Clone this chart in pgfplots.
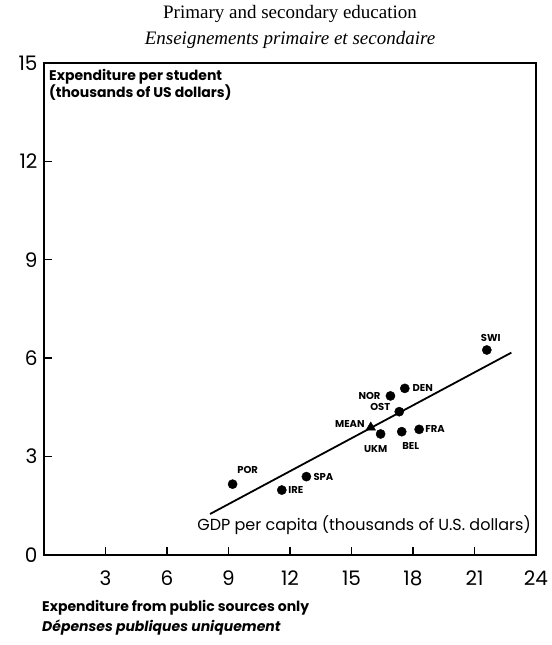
\documentclass[border=0pt]{standalone}
\usepackage{fontspec}
\setmainfont{Liberation Serif}
\newfontfamily\pop{Poppins}
\usepackage{pgfplots}
\usepackage{pgfplotstable}
\pgfplotsset{compat=1.18}

% countries: GDP per capita, expenditure per student, label offsets (pt)
\pgfplotstableread{
x      y     lab  dx   dy
9.2    2.16  POR  15   14
11.6   1.98  IRE  14   0
12.8   2.39  SPA  17   0
16.42  3.69  UKM  -5   -15
17.33  4.37  OST  -19  5
16.9   4.85  NOR  -21  0
17.6   5.08  DEN  18   0
17.45  3.76  BEL  9    -14
18.3   3.83  FRA  16   0
21.6   6.25  SWI  4    12
}\countries

\begin{document}
\begin{tikzpicture}
\begin{axis}[
    scale only axis,
    width=492pt, height=492pt,
    xmin=0, xmax=24, ymin=0, ymax=15,
    xtick={3,6,...,24}, ytick={0,3,...,15},
    tick pos=left, tick align=inside,
    major tick length=8pt,
    axis line style={line width=1.6pt},
    tick style={line width=1.4pt, black},
    /pgf/number format/assume math mode=true,
    ticklabel style={font=\pop\fontsize{20}{20}\selectfont},
    xticklabel style={yshift=-12pt},
    yticklabel style={xshift=-3pt},
    clip=false,
]
\addplot[line width=1.8pt, black] coordinates {(8.1,1.25) (22.8,6.17)};

\addplot[only marks, mark=*, mark size=4.6pt, black,
    visualization depends on={\thisrow{dx} \as \dx},
    visualization depends on={\thisrow{dy} \as \dy},
    point meta=explicit symbolic,
    nodes near coords,
    nodes near coords style={anchor=center, xshift=\dx pt, yshift=\dy pt,
        font=\pop\bfseries\fontsize{10}{10}\selectfont, inner sep=0pt}]
    table[meta=lab] {\countries};

\addplot[only marks, mark=triangle*, mark size=5.5pt, black,
    point meta=explicit symbolic,
    nodes near coords,
    nodes near coords style={anchor=east, xshift=-6pt, yshift=3pt,
        font=\pop\bfseries\fontsize{10}{10}\selectfont, inner sep=0pt}]
    coordinates {(15.94,3.89) [MEAN]};

\node[anchor=north west, align=left, inner sep=0pt,
      font=\pop\bfseries\fontsize{14}{16}\selectfont]
    at (rel axis cs:0,1) [xshift=5pt, yshift=-6pt]
    {Expenditure per student\\(thousands of US dollars)};
\node[anchor=south east, inner sep=0pt,
      font=\pop\fontsize{16}{16}\selectfont]
    at (rel axis cs:1,0) [xshift=-5pt, yshift=20pt]
    {GDP per capita (thousands of U.S. dollars)};
\node[anchor=south, align=center, inner sep=0pt,
      font=\fontsize{19}{26}\selectfont]
    at (rel axis cs:0.5,1) [yshift=14pt]
    {Primary and secondary education\\\textit{Enseignements primaire et secondaire}};
\node[anchor=north west, align=left, inner sep=0pt,
      font=\pop\bfseries\fontsize{14}{20}\selectfont]
    at (rel axis cs:0,0) [xshift=-2pt, yshift=-45pt]
    {Expenditure from public sources only\\\textit{Dépenses publiques uniquement}};
\end{axis}
\path (current axis.south west) ++(-44pt,-90pt) (current axis.north east) ++(10pt,63pt);
\end{tikzpicture}
\end{document}
